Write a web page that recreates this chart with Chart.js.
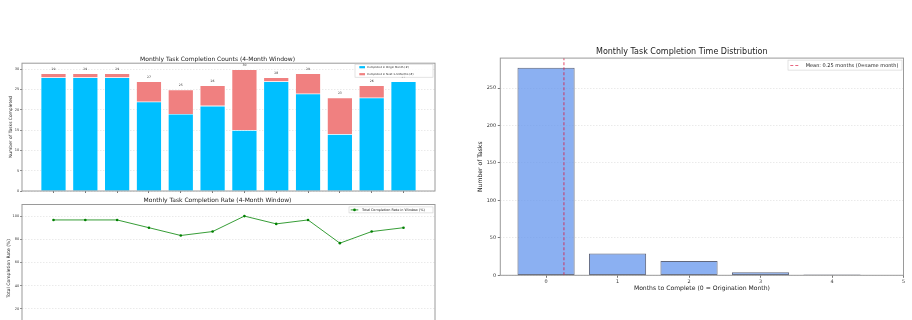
<!DOCTYPE html>
<html>
<head>
<meta charset="utf-8">
<script src="https://cdn.jsdelivr.net/npm/chart.js@4.4.1/dist/chart.umd.min.js"></script>
<style>
html, body { margin: 0; padding: 0; background: #fff; }
body { width: 912px; height: 320px; position: relative; overflow: hidden; }
canvas { position: absolute; }
#countChart { left: 0; top: 40px; }
#rateChart { left: 0; top: 190px; }
#distChart { left: 460px; top: 40px; }
</style>
</head>
<body>
<canvas id="countChart" width="445" height="155"></canvas>
<canvas id="rateChart" width="445" height="152"></canvas>
<canvas id="distChart" width="452" height="270"></canvas>
<script>
// month slots of the 4-month window charts (no labels shown on the axis)
var monthSlots = [0, 1, 2, 3, 4, 5, 6, 7, 8, 9, 10, 11];
var originMonth = [28, 28, 28, 22, 19, 21, 15, 27, 24, 14, 23, 27];
var nextMonths = [1, 1, 1, 5, 6, 5, 15, 1, 5, 9, 3, 0];
var totalDone = [29, 29, 29, 27, 25, 26, 30, 28, 29, 23, 26, 27];
var ratePct = [96.7, 96.7, 96.7, 90.0, 83.3, 86.7, 100, 93.3, 96.7, 76.7, 86.7, 90.0];

// completion time distribution
var monthsToComplete = [0, 1, 2, 3, 4];
var taskCounts = [277, 29, 19, 4, 1];
var meanMonths = 0.25;

var FONT = '"DejaVu Sans", sans-serif';
Chart.defaults.font.family = FONT;
Chart.defaults.color = '#333';

function pts(xs, ys) {
  return xs.map(function (x, i) { return { x: x, y: ys[i] }; });
}

// matplotlib-like box round the plot
var framePlugin = {
  id: 'frame',
  afterDatasetsDraw: function (chart) {
    var a = chart.chartArea, ctx = chart.ctx;
    ctx.save();
    ctx.strokeStyle = '#9a9a9a';
    ctx.lineWidth = 1;
    ctx.strokeRect(a.left, a.top, a.right - a.left, a.bottom - a.top);
    ctx.restore();
  }
};

// totals above the stacked bars
var totalLabels = {
  id: 'totalLabels',
  afterDatasetsDraw: function (chart) {
    var ctx = chart.ctx, meta = chart.getDatasetMeta(1);
    ctx.save();
    ctx.font = '3.1px ' + FONT;
    ctx.fillStyle = '#333';
    ctx.textAlign = 'center';
    ctx.textBaseline = 'bottom';
    meta.data.forEach(function (bar, i) {
      ctx.fillText(String(totalDone[i]), bar.x, bar.y - 3);
    });
    ctx.restore();
  }
};

// legend drawn inside the plot, top right
function boxLegend(o) {
  return {
    id: 'boxLegend',
    afterDraw: function (chart) {
      var ctx = chart.ctx, a = chart.chartArea;
      var x = a.right - o.right - o.w, y = a.top + o.top;
      ctx.save();
      ctx.fillStyle = 'rgba(255,255,255,0.85)';
      ctx.fillRect(x, y, o.w, o.h);
      ctx.strokeStyle = '#d0d0d0';
      ctx.lineWidth = 0.6;
      ctx.strokeRect(x, y, o.w, o.h);
      ctx.font = o.size + 'px ' + FONT;
      ctx.textBaseline = 'middle';
      ctx.textAlign = 'left';
      o.items.forEach(function (di, r) {
        var ds = chart.data.datasets[di];
        var cy = y + o.rows[r], hx = x + o.hx;
        if (o.kind === 'patch') {
          ctx.fillStyle = ds.backgroundColor;
          ctx.fillRect(hx, cy - o.ph / 2, o.hw, o.ph);
        } else {
          ctx.strokeStyle = ds.borderColor;
          ctx.lineWidth = ds.borderWidth;
          ctx.setLineDash(ds.borderDash || []);
          ctx.beginPath();
          ctx.moveTo(hx, cy);
          ctx.lineTo(hx + o.hw, cy);
          ctx.stroke();
          ctx.setLineDash([]);
          if (ds.pointRadius) {
            ctx.fillStyle = ds.pointBackgroundColor;
            ctx.beginPath();
            ctx.arc(hx + o.hw / 2, cy, ds.pointRadius, 0, 2 * Math.PI);
            ctx.fill();
          }
        }
        ctx.fillStyle = '#222';
        ctx.fillText(ds.label, x + o.tx, cy);
      });
      ctx.restore();
    }
  };
}

var dotGrid = { color: 'rgba(0,0,0,0.14)', lineWidth: 0.6, tickColor: '#555', tickWidth: 0.8 };

new Chart(document.getElementById('countChart'), {
  type: 'bar',
  data: {
    datasets: [{
      label: 'Completed in Origin Month (#)',
      data: pts(monthSlots, originMonth),
      backgroundColor: '#00bfff',
      borderColor: '#ffffff',
      borderWidth: 0.6,
      barPercentage: 0.8,
      categoryPercentage: 1
    }, {
      label: 'Completed in Next 1-3 Months (#)',
      data: pts(monthSlots, nextMonths),
      backgroundColor: '#f08080',
      borderColor: '#ffffff',
      borderWidth: 0.6,
      barPercentage: 0.8,
      categoryPercentage: 1
    }]
  },
  options: {
    responsive: false,
    animation: false,
    layout: { padding: { top: 15.5, left: 0, right: 10, bottom: 0 } },
    plugins: {
      legend: { display: false },
      tooltip: { enabled: false },
      title: {
        display: true,
        text: 'Monthly Task Completion Counts (4-Month Window)',
        font: { size: 6, weight: 'normal' },
        color: '#222',
        padding: { top: 0, bottom: 0.5 }
      }
    },
    scales: {
      x: {
        type: 'linear', stacked: true, offset: false, min: -0.99, max: 11.99,
        ticks: { stepSize: 1, autoSkip: false, includeBounds: false, callback: function () { return ''; } },
        grid: { offset: false, drawOnChartArea: false, tickLength: 2, tickColor: '#555', tickWidth: 0.8 },
        border: { display: false },
        afterFit: function (s) { s.height = 4; }
      },
      y: {
        stacked: true, min: 0, max: 31.5,
        ticks: { stepSize: 5, includeBounds: false, font: { size: 3.5 }, color: '#333', padding: 0.9 },
        grid: Object.assign({ tickLength: 1.8 }, dotGrid),
        border: { display: false, dash: [1.5, 1.5] },
        title: { display: true, text: 'Number of Tasks Completed', font: { size: 4.4 }, color: '#222', padding: { top: 8.3, bottom: 0 } },
        afterFit: function (s) { s.width = 22; }
      }
    }
  },
  plugins: [framePlugin, totalLabels, boxLegend({
    items: [0, 1], kind: 'patch', right: 2, top: 1, w: 78, h: 13,
    rows: [3.0, 10.0], hx: 4.3, hw: 5.7, ph: 2.2, tx: 12.3, size: 2.7
  })]
});

new Chart(document.getElementById('rateChart'), {
  type: 'line',
  data: {
    datasets: [{
      label: 'Total Completion Rate in Window (%)',
      data: pts(monthSlots, ratePct),
      borderColor: 'rgba(20,140,20,0.85)',
      borderWidth: 1,
      pointRadius: 1.3,
      pointBackgroundColor: '#008000',
      pointBorderWidth: 0,
      tension: 0
    }]
  },
  options: {
    responsive: false,
    animation: false,
    layout: { padding: { top: 6.8, left: 0, right: 10, bottom: 0.8 } },
    plugins: {
      legend: { display: false },
      tooltip: { enabled: false },
      title: {
        display: true,
        text: 'Monthly Task Completion Rate (4-Month Window)',
        font: { size: 6, weight: 'normal' },
        color: '#222',
        padding: { top: 0, bottom: 0.5 }
      }
    },
    scales: {
      x: {
        type: 'linear', offset: false, min: -0.99, max: 11.99,
        ticks: { stepSize: 1, autoSkip: false, includeBounds: false, callback: function () { return ''; } },
        grid: { drawOnChartArea: false, tickLength: 2, tickColor: '#555', tickWidth: 0.8 },
        border: { display: false },
        afterFit: function (s) { s.height = 9; }
      },
      y: {
        min: 0, max: 110,
        ticks: { stepSize: 20, includeBounds: false, font: { size: 3.5 }, color: '#333', padding: 0.9 },
        grid: Object.assign({ tickLength: 1.8 }, dotGrid),
        border: { display: false, dash: [1.5, 1.5] },
        title: { display: true, text: 'Total Completion Rate (%)', font: { size: 4.5 }, color: '#222', padding: { top: 5.9, bottom: 0 } },
        afterFit: function (s) { s.width = 22; }
      }
    }
  },
  plugins: [framePlugin, boxLegend({
    items: [0], kind: 'line', right: 2, top: 2.4, w: 84, h: 6,
    rows: [3], hx: 1.7, hw: 7.6, tx: 13, size: 3.4
  })]
});

new Chart(document.getElementById('distChart'), {
  type: 'bar',
  data: {
    datasets: [{
      type: 'line',
      label: 'Mean: ' + meanMonths.toFixed(2) + ' months (0=same month)',
      data: [{ x: meanMonths, y: 0 }, { x: meanMonths, y: 290 }],
      borderColor: 'rgba(220,20,60,0.65)',
      borderWidth: 1.2,
      borderDash: [3, 2],
      pointRadius: 0,
      order: 0
    }, {
      label: 'Number of Tasks',
      data: pts(monthsToComplete, taskCounts),
      backgroundColor: 'rgba(100,149,237,0.75)',
      borderColor: 'rgba(30,40,70,0.7)',
      borderWidth: 1,
      borderSkipped: false,
      barPercentage: 0.8,
      categoryPercentage: 1,
      order: 1
    }]
  },
  options: {
    responsive: false,
    animation: false,
    layout: { padding: { top: 7.3, left: 0, right: 8.5, bottom: 18.3 } },
    plugins: {
      legend: { display: false },
      tooltip: { enabled: false },
      title: {
        display: true,
        text: 'Monthly Task Completion Time Distribution',
        font: { size: 8, weight: 'normal' },
        color: '#222',
        padding: { top: 0, bottom: 1.2 }
      }
    },
    scales: {
      x: {
        type: 'linear', offset: false, min: -0.64, max: 5,
        ticks: { stepSize: 1, autoSkip: false, includeBounds: false, font: { size: 4.9 }, color: '#333', padding: 1 },
        grid: { offset: false, drawOnChartArea: false, tickLength: 2.5, tickColor: '#555', tickWidth: 0.8 },
        border: { display: false },
        title: { display: true, text: 'Months to Complete (0 = Origination Month)', font: { size: 6.1 }, color: '#222', padding: { top: 0, bottom: 0 } },
        afterFit: function (s) { s.height = 16.4; }
      },
      y: {
        min: 0, max: 290,
        ticks: { stepSize: 50, includeBounds: false, font: { size: 4.9 }, color: '#333', padding: 1.8 },
        grid: Object.assign({ tickLength: 2.5 }, dotGrid),
        border: { display: false, dash: [1.5, 1.5] },
        title: { display: true, text: 'Number of Tasks', font: { size: 6.1 }, color: '#222', padding: { top: 17, bottom: 0 } },
        afterFit: function (s) { s.width = 40.3; }
      }
    }
  },
  plugins: [framePlugin, boxLegend({
    items: [0], kind: 'line', right: 1.5, top: 2, w: 114, h: 10,
    rows: [5.4], hx: 2.3, hw: 8, tx: 17.7, size: 5
  })]
});
</script>
</body>
</html>
